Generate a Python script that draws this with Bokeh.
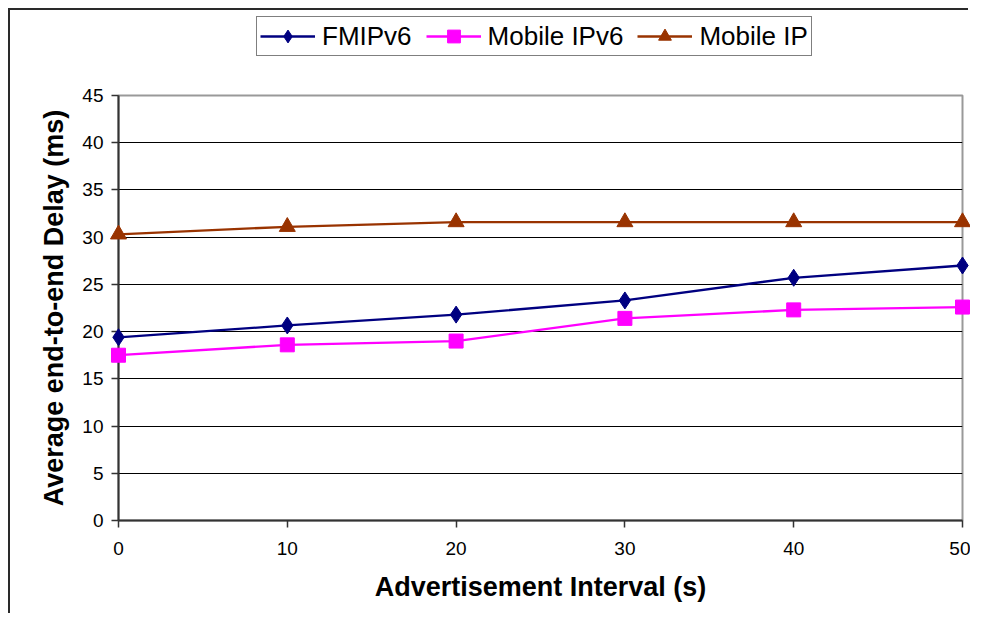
import math
from bokeh.plotting import figure
from bokeh.layouts import column
from bokeh.models import Range1d, Legend, LegendItem, FixedTicker
from bokeh.embed import file_html
from bokeh.resources import INLINE

intervals = [0, 10, 20, 30, 40, 50]
fmipv6 = [19.4, 20.65, 21.8, 23.3, 25.7, 27.0]
mobile_ipv6 = [17.5, 18.6, 19.0, 21.4, 22.3, 22.6]
mobile_ip = [30.3, 31.1, 31.6, 31.6, 31.6, 31.6]
y_ticks = [0, 5, 10, 15, 20, 25, 30, 35, 40, 45]
x_ticks = [0, 10, 20, 30, 40, 50]
series_names = ["FMIPv6", "Mobile IPv6", "Mobile IP"]

FONT = "Liberation Sans"
c1, c2, c3 = "#000080", "#FF00FF", "#993300"
markers = ["diamond", "square", "triangle"]
sizes = [17, 14, 16]

p = figure(width=960, height=530, output_backend="svg", toolbar_location=None,
           x_range=Range1d(0, 50), y_range=Range1d(0, 45),
           min_border_left=108, min_border_right=8, min_border_top=10,
           min_border_bottom=95)

p.background_fill_color = "white"
p.border_fill_color = "white"
p.outline_line_color = "#999999"
p.outline_line_width = 2

p.xgrid.visible = False
p.ygrid.ticker = FixedTicker(ticks=y_ticks)
p.ygrid.grid_line_color = "black"
p.ygrid.grid_line_width = 1

for ax in (p.xaxis[0], p.yaxis[0]):
    ax.axis_line_color = "#333333"
    ax.axis_line_width = 2
    ax.major_tick_line_color = "#333333"
    ax.major_tick_line_width = 1.5
    ax.major_tick_out = 7
    ax.major_tick_in = 0
    ax.minor_tick_line_color = None
    ax.major_label_text_font = FONT
    ax.major_label_text_font_size = "19px"
    ax.major_label_text_color = "black"
    ax.axis_label_text_font = FONT
    ax.axis_label_text_font_size = "27px"
    ax.axis_label_text_font_style = "bold"
    ax.axis_label_text_color = "black"

p.xaxis.ticker = FixedTicker(ticks=x_ticks)
p.yaxis.ticker = FixedTicker(ticks=y_ticks)
p.xaxis.axis_label = "Advertisement Interval (s)"
p.yaxis.axis_label = "Average end-to-end Delay (ms)"
p.xaxis.major_label_standoff = 14
p.yaxis.major_label_standoff = 8
p.xaxis.axis_label_standoff = 14
p.yaxis.axis_label_standoff = 10

for ys, col, mk, sz in zip([fmipv6, mobile_ipv6, mobile_ip], [c1, c2, c3], markers, sizes):
    p.line(intervals, ys, line_color=col, line_width=2.3)
    p.scatter(intervals, ys, marker=mk, size=sz, fill_color=col, line_color=col, level="overlay")

# legend strip above the chart (frame aligned with the main chart's frame)
top = figure(width=960, height=75, output_backend="svg", toolbar_location=None,
             x_axis_type=None, y_axis_type=None, x_range=Range1d(0, 1), y_range=Range1d(0, 1),
             min_border_left=108, min_border_right=8, min_border_top=0, min_border_bottom=0)
top.outline_line_color = None
top.background_fill_color = "white"
top.border_fill_color = "white"
top.xgrid.visible = False
top.ygrid.visible = False
items = []
nan = [math.nan]
for name, col, mk, sz in zip(series_names, [c1, c2, c3], markers, sizes):
    lr = top.line(nan, nan, line_color=col, line_width=2.3)
    mr = top.scatter(nan, nan, marker=mk, size=sz, fill_color=col, line_color=col)
    items.append(LegendItem(label=name, renderers=[lr, mr]))

legend = Legend(items=items, orientation="horizontal", location=(138, 29))
legend.label_text_font = FONT
legend.label_text_font_size = "26px"
legend.label_text_color = "black"
legend.border_line_color = "black"
legend.border_line_width = 1.5
legend.glyph_width = 55
legend.glyph_height = 32
legend.spacing = 14
legend.padding = 3
legend.margin = 0
legend.label_standoff = 7
top.add_layout(legend, "center")

layout = column(top, p, spacing=0, margin=(10, 0, 0, 10),
                styles={"box-shadow": "-2px -2px 0px 0px #2a2a2a"})

open("out.html", "w").write(file_html(layout, INLINE))
